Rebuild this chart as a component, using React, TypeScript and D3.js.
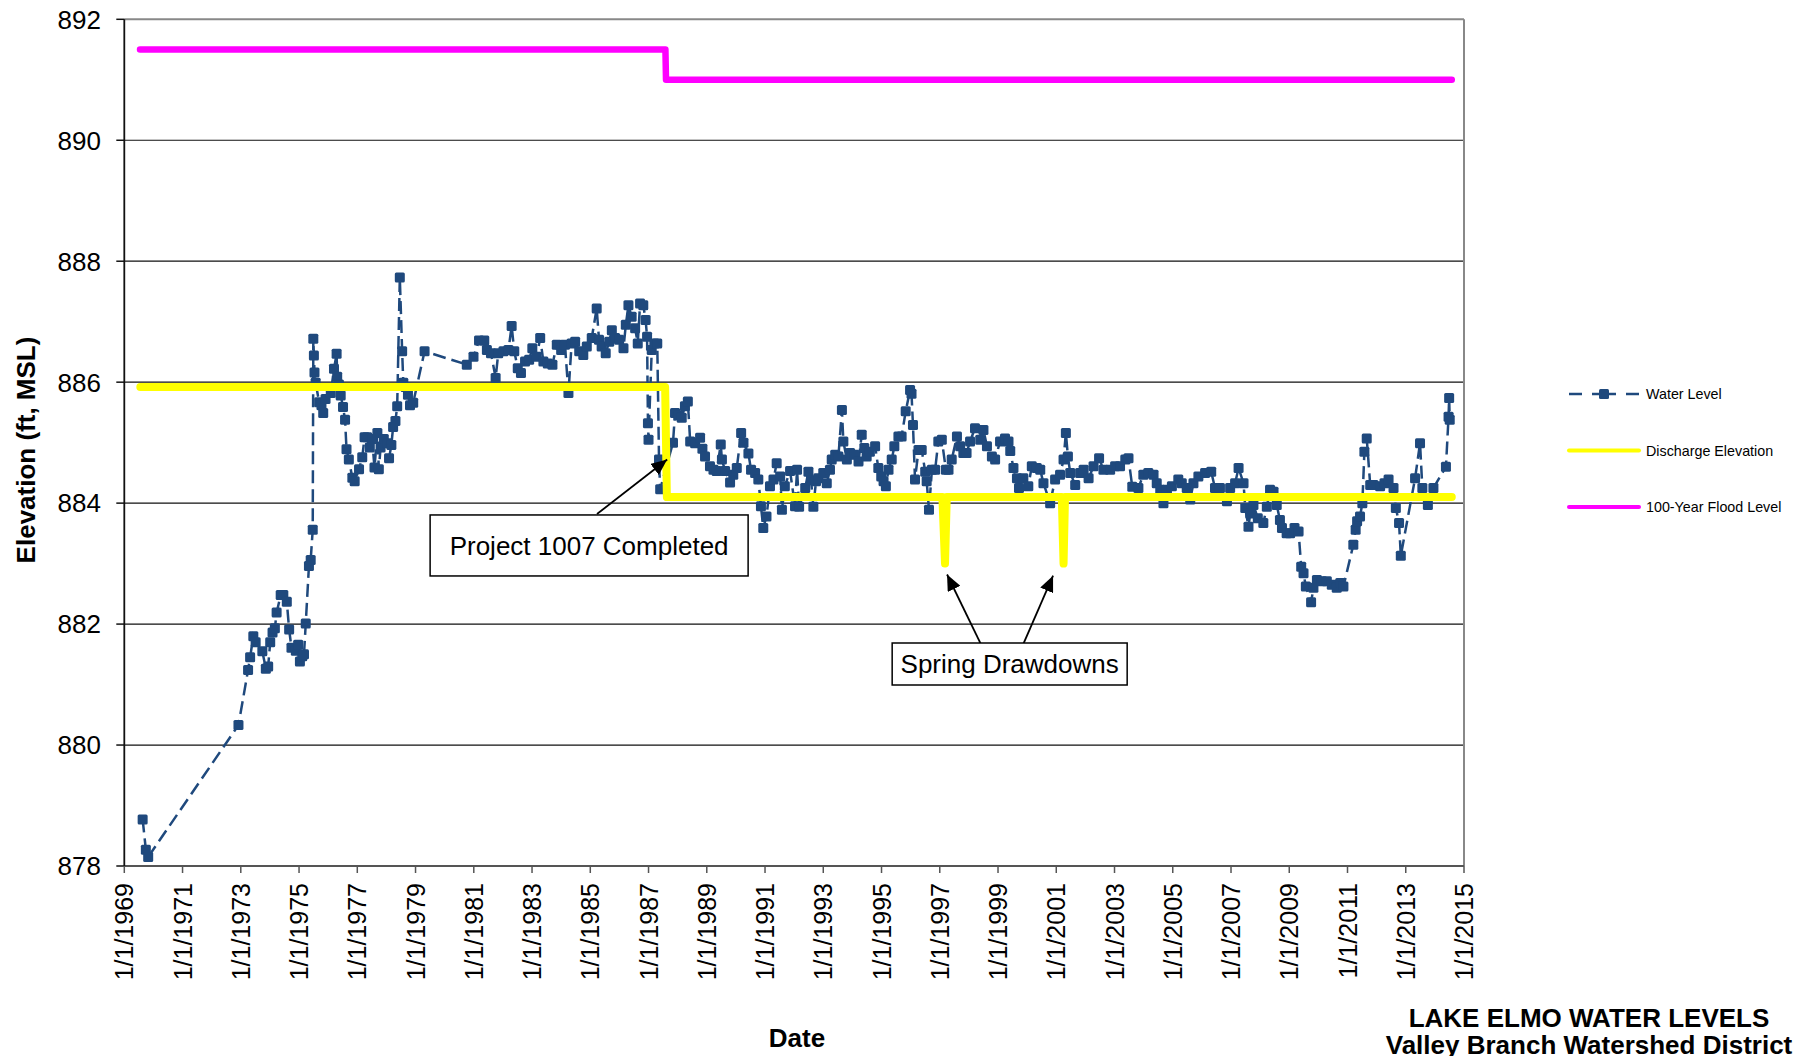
import * as d3 from 'd3';

const W = 1807;
const H = 1056;
const FONT = '"Liberation Sans", Arial, Helvetica, sans-serif';
const BLUE = '#1F497D';

// plot frame
const left = 124.3;
const right = 1464;
const top = 19.3;
const bottom = 866;

const yearTicks = d3.range(1969, 2016, 2);
const elevTicks = d3.range(878, 893, 2);

// water level readings [decimal year, elevation ft MSL]
const levels1969: [number, number][] = [
  [1969.63, 878.77], [1969.74, 878.27], [1969.82, 878.15], [1972.92, 880.33],
  [1973.25, 881.24], [1973.32, 881.45], [1973.43, 881.8], [1973.51, 881.7],
  [1973.74, 881.55], [1973.86, 881.26], [1973.94, 881.3], [1974.01, 881.7],
  [1974.09, 881.86], [1974.17, 881.93], [1974.23, 882.19], [1974.37, 882.48],
  [1974.46, 882.48], [1974.58, 882.37], [1974.66, 881.91], [1974.74, 881.61],
  [1974.89, 881.56], [1974.97, 881.66], [1975.03, 881.38], [1975.11, 881.47],
  [1975.17, 881.5], [1975.23, 882.01], [1975.34, 882.96], [1975.4, 883.06],
  [1975.47, 883.56], [1975.49, 886.72], [1975.51, 886.44], [1975.53, 886.16],
  [1975.57, 885.99], [1975.69, 885.67], [1975.77, 885.62], [1975.83, 885.49],
  [1975.91, 885.72], [1976.09, 885.82], [1976.2, 886.22], [1976.29, 886.47],
  [1976.31, 886.09], [1976.37, 885.96], [1976.43, 885.78], [1976.51, 885.59],
  [1976.58, 885.38], [1976.63, 884.89], [1976.71, 884.72], [1976.83, 884.42],
  [1976.91, 884.36], [1977.06, 884.56], [1977.17, 884.76], [1977.25, 885.09],
  [1977.34, 885.09], [1977.43, 884.92], [1977.51, 885.06], [1977.59, 884.59],
  [1977.69, 885.16], [1977.74, 884.56], [1977.8, 884.92], [1977.91, 885.06],
  [1978.05, 884.99], [1978.09, 884.74], [1978.17, 884.96], [1978.23, 885.26],
  [1978.31, 885.36], [1978.37, 885.6], [1978.46, 887.73], [1978.54, 886.51],
  [1978.58, 885.99], [1978.66, 885.92], [1978.74, 885.79], [1978.81, 885.62],
  [1978.92, 885.66], [1979.31, 886.51],
];

const levels1980: [number, number][] = [
  [1980.76, 886.29], [1980.99, 886.42], [1981.18, 886.69], [1981.36, 886.69],
  [1981.45, 886.53], [1981.59, 886.48], [1981.75, 886.07], [1981.84, 886.48],
  [1982.02, 886.51], [1982.19, 886.53], [1982.3, 886.93], [1982.39, 886.51],
  [1982.51, 886.23], [1982.62, 886.15], [1982.76, 886.34], [1982.9, 886.37],
  [1983.01, 886.56], [1983.16, 886.42], [1983.28, 886.73], [1983.39, 886.34],
  [1983.54, 886.31], [1983.7, 886.29], [1983.85, 886.62], [1984.0, 886.53],
  [1984.13, 886.62], [1984.25, 885.82], [1984.36, 886.64], [1984.48, 886.67],
  [1984.62, 886.51], [1984.76, 886.45], [1984.88, 886.59], [1985.05, 886.73],
  [1985.22, 887.22], [1985.3, 886.7], [1985.39, 886.59], [1985.53, 886.48],
  [1985.65, 886.67], [1985.74, 886.86], [1985.85, 886.73], [1985.99, 886.7],
  [1986.14, 886.56], [1986.22, 886.95], [1986.31, 887.27], [1986.42, 887.08],
  [1986.54, 886.89], [1986.63, 886.64], [1986.71, 887.3], [1986.82, 887.27],
  [1986.9, 887.03], [1986.95, 886.75], [1986.98, 885.32], [1987.0, 885.05],
  [1987.11, 886.53], [1987.2, 886.64], [1987.3, 886.64], [1987.36, 884.72],
  [1987.4, 884.23],
];

const levels1988: [number, number][] = [
  [1987.84, 885.0], [1987.91, 885.49], [1988.03, 885.45], [1988.14, 885.41],
  [1988.25, 885.6], [1988.35, 885.68], [1988.43, 885.02], [1988.6, 884.99],
  [1988.77, 885.08], [1988.85, 884.9], [1988.94, 884.77], [1989.11, 884.61],
  [1989.23, 884.55], [1989.34, 884.53], [1989.48, 884.97], [1989.52, 884.72],
  [1989.63, 884.53], [1989.8, 884.34], [1989.91, 884.47], [1990.03, 884.58],
  [1990.18, 885.16], [1990.26, 885.0], [1990.43, 884.82], [1990.52, 884.55],
  [1990.66, 884.5], [1990.77, 884.39], [1990.86, 883.95], [1990.94, 883.59],
  [1991.05, 883.78], [1991.17, 884.28], [1991.29, 884.39], [1991.4, 884.66],
  [1991.52, 884.44], [1991.58, 883.89], [1991.68, 884.28], [1991.86, 884.53],
  [1992.03, 883.95], [1992.1, 884.55], [1992.17, 883.94], [1992.38, 884.25],
  [1992.49, 884.52], [1992.58, 884.38], [1992.66, 883.94], [1992.75, 884.36],
  [1992.83, 884.41], [1993.0, 884.5], [1993.12, 884.33], [1993.23, 884.55],
  [1993.29, 884.72], [1993.41, 884.8], [1993.52, 884.77], [1993.64, 885.54],
  [1993.69, 885.02], [1993.81, 884.72], [1993.92, 884.83], [1994.07, 884.8],
  [1994.21, 884.69], [1994.32, 885.13], [1994.41, 884.91], [1994.49, 884.77],
  [1994.6, 884.85], [1994.78, 884.94], [1994.89, 884.58], [1994.99, 884.44],
  [1995.07, 884.36], [1995.15, 884.28], [1995.24, 884.55], [1995.35, 884.72],
  [1995.44, 884.94], [1995.58, 885.1], [1995.69, 885.1], [1995.83, 885.52],
  [1995.98, 885.87], [1996.03, 885.81], [1996.08, 885.29], [1996.15, 884.39],
  [1996.27, 884.88], [1996.38, 884.88], [1996.5, 884.52], [1996.55, 884.36],
  [1996.63, 883.89], [1996.73, 884.55], [1996.84, 884.55], [1996.95, 885.02],
  [1997.07, 885.05], [1997.21, 884.55], [1997.3, 884.55], [1997.41, 884.72],
  [1997.59, 885.1], [1997.7, 884.94], [1997.81, 884.83], [1997.92, 884.83],
  [1998.04, 885.02], [1998.21, 885.24], [1998.39, 885.05], [1998.5, 885.21],
  [1998.62, 884.94], [1998.79, 884.77], [1998.9, 884.72], [1999.07, 885.02],
  [1999.24, 885.07], [1999.36, 885.02], [1999.42, 884.86], [1999.53, 884.58],
  [1999.65, 884.41], [1999.72, 884.25], [1999.87, 884.41], [2000.04, 884.28],
  [2000.16, 884.61], [2000.33, 884.58], [2000.45, 884.55], [2000.56, 884.33],
  [2000.79, 884.0], [2000.96, 884.39], [2001.13, 884.47], [2001.25, 884.72],
  [2001.33, 885.16], [2001.4, 884.77], [2001.48, 884.5], [2001.65, 884.3],
  [2001.82, 884.5], [2001.94, 884.55], [2002.11, 884.41], [2002.28, 884.61],
  [2002.47, 884.74], [2002.62, 884.55], [2002.85, 884.55], [2003.02, 884.61],
  [2003.19, 884.61], [2003.37, 884.72], [2003.48, 884.74], [2003.61, 884.27],
  [2003.82, 884.25], [2003.99, 884.47],
];

const levels2004: [number, number][] = [
  [2004.16, 884.5], [2004.34, 884.47], [2004.45, 884.33], [2004.57, 884.22],
  [2004.68, 884.0], [2004.8, 884.22], [2004.97, 884.28], [2005.19, 884.39],
  [2005.31, 884.33], [2005.48, 884.25], [2005.6, 884.06], [2005.71, 884.33],
  [2005.88, 884.44], [2006.11, 884.5], [2006.32, 884.52], [2006.45, 884.25],
  [2006.62, 884.25], [2006.86, 884.03], [2006.97, 884.25], [2007.14, 884.33],
  [2007.26, 884.58], [2007.43, 884.33], [2007.49, 883.92], [2007.6, 883.61],
  [2007.66, 883.83], [2007.77, 883.97], [2007.92, 883.75], [2008.11, 883.67],
  [2008.23, 883.94], [2008.34, 884.22], [2008.46, 884.19], [2008.57, 883.97],
  [2008.68, 883.72], [2008.75, 883.59], [2008.91, 883.5], [2009.03, 883.5],
  [2009.18, 883.59], [2009.32, 883.53], [2009.41, 882.95], [2009.49, 882.84],
  [2009.57, 882.62], [2009.75, 882.36], [2009.83, 882.6], [2009.95, 882.73],
  [2010.12, 882.71], [2010.29, 882.71], [2010.46, 882.65], [2010.63, 882.6],
  [2010.75, 882.68], [2010.86, 882.62], [2011.2, 883.31], [2011.28, 883.56],
  [2011.33, 883.7], [2011.43, 883.78], [2011.51, 884.0], [2011.58, 884.85],
  [2011.66, 885.07], [2011.78, 884.3], [2011.89, 884.3], [2012.12, 884.28],
  [2012.27, 884.33], [2012.41, 884.39], [2012.58, 884.25], [2012.66, 883.92],
  [2012.77, 883.67], [2012.83, 883.13], [2013.32, 884.41], [2013.49, 884.99],
  [2013.57, 884.25], [2013.76, 883.97], [2013.95, 884.25], [2014.38, 884.6],
  [2014.47, 885.43], [2014.49, 885.74], [2014.51, 885.38],
];

const waterLevel = [...levels1969, ...levels1980, ...levels1988, ...levels2004];

const discharge: [number, number][] = [
  [1969.55, 885.92], [1987.57, 885.92], [1987.63, 884.1], [1997.09, 884.1],
  [1997.18, 883.0], [1997.24, 884.1], [2001.19, 884.1], [2001.25, 883.0],
  [2001.3, 884.1], [2014.58, 884.1],
];

const floodLevel: [number, number][] = [
  [1969.54, 891.5], [1987.58, 891.5], [1987.6, 891.0], [2014.58, 891.0],
];

const legendItems = ['Water Level', 'Discharge Elevation', '100-Year Flood Level'];
const legendColors = [BLUE, '#FFFF00', '#FF00FF'];

// annotation anchors in data space
const projectNote = { text: 'Project 1007 Completed', at: [1984.96, 883.3], w: 318, h: 61 };
const projectArrows = [[[1985.23, 883.82], [1987.64, 884.72]]];
const springNote = { text: 'Spring Drawdowns', at: [1999.4, 881.34], w: 235, h: 42 };
const springArrows = [
  [[1998.42, 881.66], [1997.25, 882.82]],
  [[1999.86, 881.66], [2000.89, 882.8]],
];

export default function App() {
  const x = d3.scaleLinear().domain([1969, 2015]).range([left, right]);
  const y = d3.scaleLinear().domain([878, 892]).range([bottom, top]);
  const line = d3
    .line<[number, number]>()
    .x((d) => x(d[0]))
    .y((d) => y(d[1]));

  const notes = [
    { ...projectNote, arrows: projectArrows },
    { ...springNote, arrows: springArrows },
  ];

  return (
    <svg
      width={W}
      height={H}
      style={{ position: 'absolute', left: 0, top: 0, display: 'block', background: '#fff' }}
      fontFamily={FONT}
    >
      <defs>
        <marker id="head" markerUnits="userSpaceOnUse" markerWidth="18" markerHeight="14"
          refX="16" refY="7" orient="auto">
          <path d="M0,0 L16,7 L0,14 Z" fill="#000" />
        </marker>
      </defs>
      <rect width={W} height={H} fill="#fff" />

      {/* gridlines */}
      {elevTicks.filter((t) => t > 878 && t < 892).map((t) => (
        <line key={t} x1={left} x2={right} y1={y(t)} y2={y(t)} stroke="#111" strokeWidth={1.2} />
      ))}
      {/* frame */}
      <line x1={left} x2={right} y1={top} y2={top} stroke="#888" strokeWidth={2} />
      <line x1={right} x2={right} y1={top} y2={bottom} stroke="#888" strokeWidth={2} />
      <line x1={left} x2={right} y1={bottom} y2={bottom} stroke="#555" strokeWidth={2} />
      <line x1={left} x2={left} y1={top} y2={bottom} stroke="#111" strokeWidth={1.8} />

      {/* y axis */}
      {elevTicks.map((t) => (
        <g key={t}>
          <line x1={left - 8} x2={left} y1={y(t)} y2={y(t)} stroke="#111" strokeWidth={1.5} />
          <text x={101} y={y(t)} dy="0.36em" textAnchor="end" fontSize={26}>{t}</text>
        </g>
      ))}
      {/* x axis */}
      {yearTicks.map((t) => (
        <g key={t}>
          <line x1={x(t)} x2={x(t)} y1={bottom} y2={bottom + 7} stroke="#555" strokeWidth={1.5} />
          <text
            transform={`translate(${x(t)},${bottom + 17}) rotate(-90)`}
            dy="0.36em"
            textAnchor="end"
            fontSize={25}
          >
            {`1/1/${t}`}
          </text>
        </g>
      ))}

      <text transform="translate(35,450) rotate(-90)" textAnchor="middle" fontSize={26} fontWeight="bold">
        Elevation (ft, MSL)
      </text>
      <text x={797} y={1047} textAnchor="middle" fontSize={26} fontWeight="bold">Date</text>

      {/* water level */}
      <path d={line(waterLevel) ?? ''} fill="none" stroke={BLUE} strokeWidth={2.5} strokeDasharray="13 6" />
      {waterLevel.map((d, i) => (
        <rect key={i} x={x(d[0]) - 5} y={y(d[1]) - 5} width={10} height={10} rx={1.5} fill={BLUE} />
      ))}

      {/* discharge elevation and flood level */}
      <path d={line(discharge) ?? ''} fill="none" stroke="#FFFF00" strokeWidth={8}
        strokeLinecap="round" strokeLinejoin="round" />
      <path d={line(floodLevel) ?? ''} fill="none" stroke="#FF00FF" strokeWidth={6.5}
        strokeLinecap="round" strokeLinejoin="round" />

      {/* annotations */}
      {notes.map((n) => (
        <g key={n.text}>
          {n.arrows.map((a, i) => (
            <line key={i} x1={x(a[0][0])} y1={y(a[0][1])} x2={x(a[1][0])} y2={y(a[1][1])}
              stroke="#000" strokeWidth={1.8} markerEnd="url(#head)" />
          ))}
          <rect x={x(n.at[0]) - n.w / 2} y={y(n.at[1]) - n.h / 2} width={n.w} height={n.h}
            fill="#fff" stroke="#000" strokeWidth={1.5} />
          <text x={x(n.at[0])} y={y(n.at[1])} dy="0.36em" textAnchor="middle" fontSize={26}>
            {n.text}
          </text>
        </g>
      ))}

      {/* legend */}
      {legendItems.map((name, i) => {
        const ly = 394 + i * 56.5;
        return (
          <g key={name}>
            {i === 0 ? (
              <>
                <line x1={1569} x2={1582} y1={ly} y2={ly} stroke={BLUE} strokeWidth={2.5} />
                <line x1={1592} x2={1616} y1={ly} y2={ly} stroke={BLUE} strokeWidth={2.5} />
                <line x1={1626} x2={1639} y1={ly} y2={ly} stroke={BLUE} strokeWidth={2.5} />
                <rect x={1599} y={ly - 5} width={10} height={10} rx={1.5} fill={BLUE} />
              </>
            ) : (
              <line x1={1569} x2={1639} y1={ly} y2={ly} stroke={legendColors[i]} strokeWidth={4}
                strokeLinecap="round" />
            )}
            <text x={1646} y={ly} dy="0.36em" fontSize={14.3}>{name}</text>
          </g>
        );
      })}

      {/* title */}
      <text x={1589} y={1027} textAnchor="middle" fontSize={26} fontWeight="bold">LAKE ELMO WATER LEVELS</text>
      <text x={1589} y={1054} textAnchor="middle" fontSize={26} fontWeight="bold">Valley Branch Watershed District</text>
    </svg>
  );
}
